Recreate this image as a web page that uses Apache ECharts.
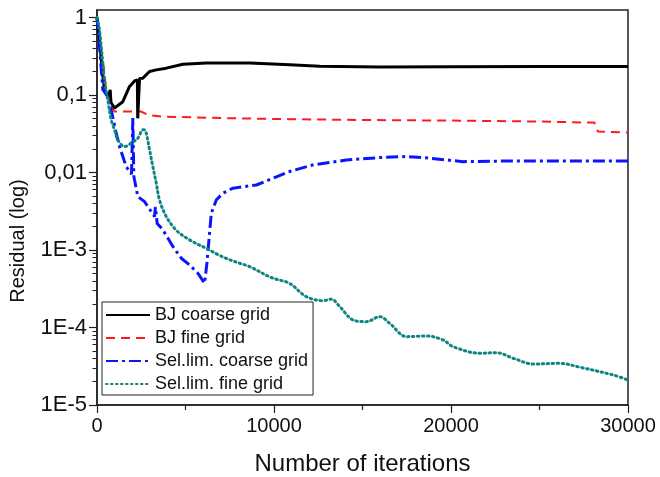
<!DOCTYPE html>
<html>
<head>
<meta charset="utf-8">
<script src="https://cdn.jsdelivr.net/npm/echarts@6/dist/echarts.min.js"></script>
<style>
  html, body { margin: 0; padding: 0; background: #fff; }
  #chart { width: 660px; height: 477px; }
</style>
</head>
<body>
<div id="chart"></div>
<script>
// Residual history of the four solver set-ups, [iteration, residual]
const bjCoarse = [
  [0, 1], [150, 0.5], [300, 0.2], [424, 0.117], [600, 0.095], [667, 0.0955],
  [720, 0.11], [746, 0.117], [790, 0.08], [990, 0.068], [1459, 0.082],
  [1838, 0.129], [2121, 0.152], [2280, 0.157], [2300, 0.05], [2330, 0.05],
  [2403, 0.163], [2590, 0.165], [2969, 0.201], [3348, 0.211], [3914, 0.222],
  [4852, 0.25], [6176, 0.258], [8625, 0.258], [10887, 0.245], [12584, 0.235],
  [15976, 0.229], [20000, 0.232], [25000, 0.233], [30000, 0.233]
];
const bjFine = [
  [0, 1], [200, 0.45], [424, 0.191], [520, 0.111], [707, 0.0785], [990, 0.0611],
  [1934, 0.0611], [2500, 0.0611], [2873, 0.0554], [3630, 0.0527], [7114, 0.0503],
  [10887, 0.0488], [14092, 0.0478], [19747, 0.0468], [25000, 0.0455],
  [27850, 0.0441], [28100, 0.0441], [28300, 0.0337], [30000, 0.0328]
];
const selCoarse = [
  [0, 1], [150, 0.4], [328, 0.117], [611, 0.0955], [803, 0.0643], [1086, 0.0322],
  [1272, 0.0216], [1651, 0.0119], [1950, 0.0095], [2024, 0.0503], [2080, 0.009],
  [2121, 0.008], [2307, 0.00489], [2686, 0.00421], [3065, 0.00313], [3252, 0.0027],
  [3300, 0.0036], [3400, 0.0022], [3721, 0.00182], [4287, 0.00111], [4762, 0.000783],
  [5231, 0.000641], [5700, 0.000501], [6079, 0.000372], [6209, 0.000675],
  [6458, 0.00299], [6741, 0.00443], [7114, 0.0054], [7679, 0.00628], [9003, 0.0069],
  [10134, 0.0088], [10887, 0.0103], [12204, 0.01254], [14092, 0.0145],
  [15976, 0.0156], [17486, 0.0161], [18802, 0.0153], [20686, 0.0138],
  [23513, 0.0141], [27285, 0.0141], [30000, 0.0141]
];
const selFine = [
  [0, 1], [141, 0.694], [424, 0.157], [611, 0.0866], [803, 0.0478], [990, 0.0355],
  [1176, 0.0264], [1555, 0.0216], [1934, 0.0239], [2307, 0.0277], [2590, 0.0355],
  [2686, 0.0355], [2782, 0.0322], [2969, 0.0196], [3156, 0.0119], [3348, 0.0073],
  [3534, 0.0044], [3913, 0.0027], [4479, 0.0018], [5231, 0.00135], [6175, 0.00105],
  [6927, 0.00085], [7493, 0.00075], [8058, 0.000675], [8624, 0.00061],
  [9755, 0.00045], [10134, 0.00042], [10886, 0.00037], [11830, 0.00025],
  [12769, 0.000222], [13244, 0.000232], [13713, 0.000186], [14466, 0.000125],
  [15224, 0.000119], [15976, 0.000138], [16541, 0.000113], [17486, 7.62e-5],
  [18616, 7.78e-5], [19555, 6.9e-5], [20120, 5.66e-5], [21630, 4.65e-5],
  [22575, 4.73e-5], [23513, 4.01e-5], [24644, 3.38e-5], [26154, 3.45e-5],
  [27285, 3.07e-5], [29168, 2.44e-5], [30000, 2.1e-5]
];

const seriesNames = ['BJ coarse grid', 'BJ fine grid', 'Sel.lim. coarse grid', 'Sel.lim. fine grid'];

// decade ticks and their printed labels (comma decimal separator)
const decadeValues = [1e-5, 1e-4, 1e-3, 0.01, 0.1, 1];
const decadeLabels = ['1E-5', '1E-4', '1E-3', '0,01', '0,1', '1'];
const xTicks = [0, 10000, 20000, 30000];
const xTickLabels = ['0', '10000', '20000', '30000'];

const minorValues = [];
for (let e = -5; e < 0; e++) {
  for (let k = 2; k <= 9; k++) minorValues.push(+(k * Math.pow(10, e)).toPrecision(3));
}

const FONT = '"Liberation Sans", Arial, Helvetica, sans-serif';

const chart = echarts.init(document.getElementById('chart'), null, { renderer: 'canvas' });

function decadeLabel(v) {
  for (let i = 0; i < decadeValues.length; i++) {
    if (Math.abs(Math.log10(v) - Math.log10(decadeValues[i])) < 1e-6) return decadeLabels[i];
  }
  return '';
}
function iterLabel(v) {
  const i = xTicks.indexOf(v);
  return i >= 0 ? xTickLabels[i] : '';
}

chart.setOption({
  animation: false,
  backgroundColor: '#fff',
  textStyle: { fontFamily: FONT },
  grid: {
    left: 97, right: 32, top: 10, bottom: 72,
    outerBoundsMode: 'none',
    show: true, borderColor: '#222', borderWidth: 1.5, backgroundColor: 'transparent'
  },
  legend: {
    orient: 'vertical',
    left: 102, top: 302,
    padding: [3, 5, 1, 3],
    itemWidth: 44, itemHeight: 14, itemGap: 3,
    backgroundColor: '#fff',
    borderColor: '#222', borderWidth: 1,
    borderRadius: 0,
    itemStyle: { opacity: 0 },
    textStyle: { fontSize: 18, color: '#111', fontFamily: FONT, lineHeight: 20 },
    data: seriesNames.map(n => ({ name: n }))
  },
  graphic: [{
    type: 'text',
    x: 18, y: 241,
    rotation: Math.PI / 2,
    style: {
      text: 'Residual (log)', fontSize: 20, fontFamily: FONT, fill: '#111',
      align: 'center', verticalAlign: 'middle'
    }
  }],
  xAxis: {
    type: 'value', min: 0, max: 30000, interval: 10000,
    name: 'Number of iterations', nameLocation: 'middle', nameGap: 47,
    nameTextStyle: { fontSize: 24, color: '#111', fontFamily: FONT },
    axisLine: { lineStyle: { color: '#222', width: 1.5 } },
    axisTick: { length: 8, lineStyle: { color: '#222', width: 1.2 } },
    minorTick: { show: true, splitNumber: 2, length: 5, lineStyle: { color: '#222', width: 1.2 } },
    axisLabel: {
      fontSize: 20, color: '#111', margin: 11, fontFamily: FONT,
      customValues: xTicks,
      formatter: iterLabel
    },
    splitLine: { show: false }
  },
  yAxis: [{
    type: 'log', logBase: 10, min: 1e-5, max: 1.25,
    axisLine: { onZero: false, lineStyle: { color: '#222', width: 1.5 } },
    axisTick: { length: 8, lineStyle: { color: '#222', width: 1.2 }, customValues: decadeValues },
    axisLabel: {
      fontSize: 22, color: '#111', margin: 10, fontFamily: FONT,
      customValues: decadeValues,
      formatter: decadeLabel
    },
    splitLine: { show: false }
  }, {
    type: 'log', logBase: 10, min: 1e-5, max: 1.25, position: 'left',
    axisLine: { show: false },
    axisTick: { length: 4.5, lineStyle: { color: '#222', width: 1 }, customValues: minorValues },
    axisLabel: { show: false },
    splitLine: { show: false }
  }],
  series: [{
    name: seriesNames[0], type: 'line', data: bjCoarse, showSymbol: false, symbol: 'none',
    lineStyle: { color: '#000', width: 3 }, itemStyle: { color: '#000' }, z: 4
  }, {
    name: seriesNames[1], type: 'line', data: bjFine, showSymbol: false, symbol: 'none',
    lineStyle: { color: '#ff1a1a', width: 2, type: [9, 6] }, itemStyle: { color: '#ff1a1a' }, z: 3
  }, {
    name: seriesNames[2], type: 'line', data: selCoarse, showSymbol: false, symbol: 'none',
    lineStyle: { color: '#0a14ff', width: 3, type: [12, 4, 3, 4] }, itemStyle: { color: '#0a14ff' }, z: 5
  }, {
    name: seriesNames[3], type: 'line', data: selFine, showSymbol: false, symbol: 'none',
    smooth: 0.35,
    lineStyle: { color: '#0e8585', width: 3, type: [1.5, 3.5], cap: 'round' }, itemStyle: { color: '#0e8585' }, z: 6
  }]
});
</script>
</body>
</html>
